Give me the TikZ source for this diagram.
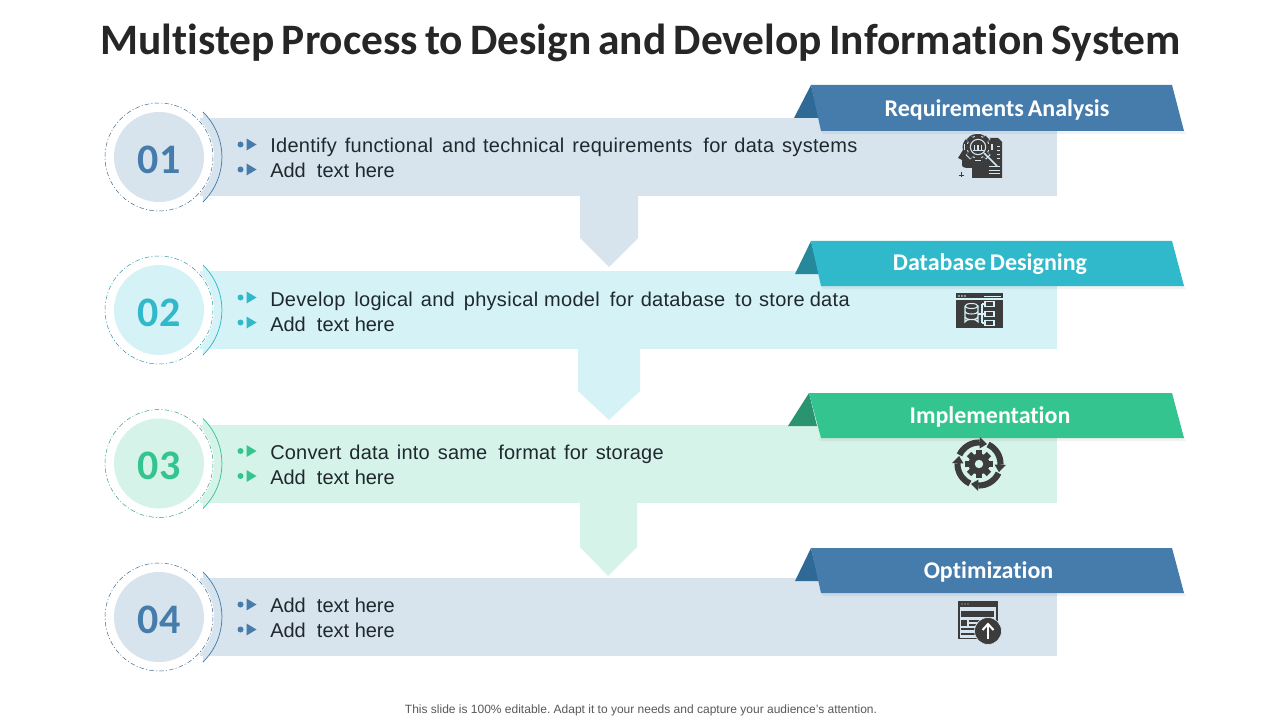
\documentclass[tikz,border=0pt]{standalone}
\usepackage{fontspec}
\setmainfont{Liberation Sans}
\newfontfamily\headfont[Ligatures=CommonOff,WordSpace=0.72]{Carlito}
\definecolor{blueS}{HTML}{457CAB}\definecolor{blueL}{HTML}{D7E4EE}\definecolor{blueD}{HTML}{2F6A96}
\definecolor{tealS}{HTML}{2FB9CB}\definecolor{tealL}{HTML}{D5F2F6}\definecolor{tealD}{HTML}{25899B}
\definecolor{greenS}{HTML}{34C490}\definecolor{greenL}{HTML}{D6F3EA}\definecolor{greenD}{HTML}{2A9470}
\definecolor{ink}{HTML}{3C3C3C}\definecolor{titleink}{HTML}{262626}\definecolor{bodyink}{HTML}{1F282D}
\newcommand\gp[1]{\hspace{#1\dimexpr 0.75pt\relax}}
\tikzset{
 x=0.75pt,y=-0.75pt,
 titletext/.style={font=\headfont\bfseries\fontsize{32.6}{36}\selectfont,text=titleink,inner sep=0},
 bodytext/.style={font=\fontsize{15}{18}\selectfont,text=bodyink,inner sep=0,anchor=base west},
 numtext/.style={font=\headfont\bfseries\fontsize{31.5}{36}\selectfont,inner sep=0},
 bannertext/.style={font=\headfont\bfseries\fontsize{18}{20}\selectfont,text=white,inner sep=0},
 foottext/.style={font=\fontsize{9}{11}\selectfont,text=black!65,inner sep=0},
 ic/.style={fill=ink,draw=none},
}
\newcommand\rowblock[4]{%
 \fill[#2] (200,#1-39) rectangle (1057,#1+39);
 \fill[#2] (203,#1-45) arc[start angle=-45.6,end angle=45.6,radius=63] -- cycle;
 \fill[white] (159,#1) circle[radius=55];
 \draw[#3,line width=0.55pt] (203,#1-45) arc[start angle=-45.6,end angle=45.6,radius=63];
 \draw[black!20!#3,line width=0.35pt,dash pattern=on 3.5pt off 1.6pt on 0.8pt off 1.6pt] (159,#1) circle[radius=54];
 \node[circle,fill=#2,minimum size=67.5pt,inner sep=0] (c#4) at (159,#1) {};
 \node[numtext,text=#3] (n#4) at (159,#1+2.5) {#4};
 \foreach \q in {-12.5,12.5}{
  \fill[#3] (240.5,#1+\q) circle[radius=3];
  \fill[#3] (246.5,#1+\q-6) -- (256.5,#1+\q) -- (246.5,#1+\q+6) -- cycle;
 }
}
% #1 top y, #2 strong, #3 dark, #4 fold left x, #5 banner top-left x, #6 height
\newcommand\ribbon[6]{%
 \fill[#3] (#5,#1) -- (#4,#1+33) -- (#5+8,#1+33) -- cycle;
 \fill[black,opacity=.05] (#5+10,#1+#6) -- (1184,#1+#6) -- (1186,#1+#6+3) -- (#5+12,#1+#6+3) -- cycle;
 \fill[#2] (#5,#1) -- (1172,#1) -- (1184,#1+#6) -- (821,#1+#6) -- cycle;
}
\newcommand\gearshape[5]{% cx cy outer inner colour
 \foreach \a in {0,45,...,315}{
  \fill[#5,rotate around={\a:(#1,#2)}] (#1-#3*0.22,#2) rectangle (#1+#3*0.22,#2-#3);
 }
 \fill[#5] (#1,#2) circle[radius=#4];
}
\begin{document}
\frenchspacing
\begin{tikzpicture}
\useasboundingbox (0,0) rectangle (1280,720);
\fill[white] (0,0) rectangle (1280,720);
\node[titletext] (title) at (640.5,42.5) {Multistep Process to Design and Develop Information System};

% pointers
\fill[blueL] (580,190) -- (638,190) -- (638,238) -- (609,267) -- (580,238) -- cycle;
\fill[tealL] (578,345) -- (640,345) -- (640,391) -- (609,420) -- (578,391) -- cycle;
\fill[greenL] (580,498) -- (637,498) -- (637,547) -- (608,576) -- (580,547) -- cycle;

\rowblock{157}{blueL}{blueS}{01}
\rowblock{310}{tealL}{tealS}{02}
\rowblock{463.5}{greenL}{greenS}{03}
\rowblock{617}{blueL}{blueS}{04}

\node[bodytext] (t1a) at (270,153) {\addfontfeature{LetterSpace=1.5}Identify\gp{8}functional\gp{9}and\gp{7}technical\gp{8}requirements\gp{11}for\gp{7}data\gp{8}systems};
\node[bodytext] (t1b) at (270,178) {Add\ \ text here};
\node[bodytext] (t2a) at (270,306) {\addfontfeature{LetterSpace=1.5}Develop\gp{9}logical\gp{8}and\gp{9}physical\gp{6}model\gp{10}for\gp{7}database\gp{10}to\gp{7}store\gp{5}data};
\node[bodytext] (t2b) at (270,331) {Add\ \ text here};
\node[bodytext] (t3a) at (270,459) {\addfontfeature{LetterSpace=1}Convert\gp{8}data\gp{8}into\gp{8}same\gp{11}format\gp{8}for\gp{8}storage};
\node[bodytext] (t3b) at (270,484) {Add\ \ text here};
\node[bodytext] (t4a) at (270,612.5) {Add\ \ text here};
\node[bodytext] (t4b) at (270,637.5) {Add\ \ text here};

\ribbon{85}{blueS}{blueD}{794}{811}{46}
\ribbon{241}{tealS}{tealD}{795}{811}{45}
\ribbon{393}{greenS}{greenD}{788}{809}{45}
\ribbon{548}{blueS}{blueD}{795}{811}{45}
\node[bannertext] (b1) at (997,109.5) {Requirements Analysis};
\node[bannertext] (b2) at (990,264.5) {Database Designing};
\node[bannertext] (b3) at (990,416.5) {Implementation};
\node[bannertext] (b4) at (988.5,571.5) {Optimization};

% icon 1: head with gear and document
\fill[ic] (978,134) .. controls (966,134) and (961,144) .. (963,150) -- (958,158) -- (962,160) -- (962,165) .. controls (962,168) and (966,168) .. (972,168) -- (972,178) -- (988,178) -- (988,160) .. controls (995,150) and (990,134) .. (978,134) -- cycle;
\fill[ic] (987,138) -- (998,138) -- (1002,142) -- (1002,178) -- (987,178) -- cycle;
\gearshape{978}{147}{14.5}{11.5}{blueL}
\gearshape{978}{147}{13.3}{10.5}{ink}
\fill[blueL] (978,147) circle[radius=8.2];
\fill[ink] (978,147) circle[radius=7];
\draw[blueL,line width=1.1pt] (984,153) -- (997,166);
\foreach \q in {974.5,978,981.5}{\draw[blueL,line width=0.8pt] (\q,150) -- (\q,145.5);}
\draw[blueL,line width=0.6pt] (972.5,150.5) -- (983.5,150.5);
\foreach \q in {146,150,154,158}{\draw[blueL,line width=0.6pt] (997,\q) -- (1000,\q);}
\foreach \q in {166.5,170,173.5}{\draw[blueL,line width=0.7pt] (989,\q) -- (1000,\q);}
\draw[ink,line width=0.5pt] (961,172.5) -- (961,177.5) (958.5,175) -- (963.5,175);

% icon 2: window with database
\fill[ic] (956,293) rectangle (1003,328);
\draw[tealL,line width=0.7pt] (984,296) -- (1001,296);
\foreach \q in {959,962,965}{\fill[tealL] (\q,296) circle[radius=0.8];}
\draw[tealL,line width=0.8pt] (956,299) -- (1003,299);
\draw[tealL,line width=0.8pt] (965,306) -- (965,322) arc[start angle=180,end angle=0,x radius=6.5,y radius=-2.5] -- (978,306) (965,306) arc[start angle=180,end angle=-180,x radius=6.5,y radius=2.5] (965,311.5) arc[start angle=180,end angle=360,x radius=6.5,y radius=-2.5] (965,317) arc[start angle=180,end angle=360,x radius=6.5,y radius=-2.5];
\draw[tealL,line width=0.8pt] (978,314) -- (985,314) (982,304) -- (982,323) (982,304) -- (985,304) (982,323) -- (985,323);
\foreach \q in {304,314,323}{\draw[tealL,line width=0.8pt] (985,\q-2.5) rectangle (994,\q+2.5);}

% icon 3: gear in a cycle of arrows
\gearshape{979}{464}{14}{10.5}{ink}
\fill[greenL] (979,464) circle[radius=4.2];
\foreach \a in {-88,2,92,182}{
 \draw[ink,line width=4.6pt] ([shift={(\a-67:21.5)}]979,464) arc[start angle=\a-67,end angle=\a,radius=21.5];
 \fill[ink] ([shift={(\a:15.5)}]979,464) -- ([shift={(\a:27)}]979,464) -- ([shift={(\a+20:21.5)}]979,464) -- cycle;
}

% icon 4: browser with upload badge
\draw[ink,line width=0.9pt] (959,602) rectangle (997,638.5);
\fill[ink] (959,601) rectangle (997,607);
\foreach \q in {962,965,968}{\fill[blueL] (\q,604) circle[radius=0.7];}
\fill[ink] (961,611) rectangle (994,617);
\fill[ink] (961,620) rectangle (967,626);
\foreach \q in {621,625,629}{\draw[ink,line width=0.8pt] (969,\q) -- (980,\q);}
\foreach \q in {629,634}{\draw[ink,line width=0.8pt] (961,\q) -- (976,\q);}
\fill[ink,draw=blueL,line width=0.5pt] (988,631) circle[radius=13.5];
\draw[white,line width=1.5pt] (988,639) -- (988,624.5);
\draw[white,line width=1.5pt] (982.5,630) -- (988,624) -- (993.5,630);

\node[foottext] (foot) at (641,710.5) {This slide is 100\% editable. Adapt it to your needs and capture your audience's attention.};
\end{tikzpicture}
\end{document}
